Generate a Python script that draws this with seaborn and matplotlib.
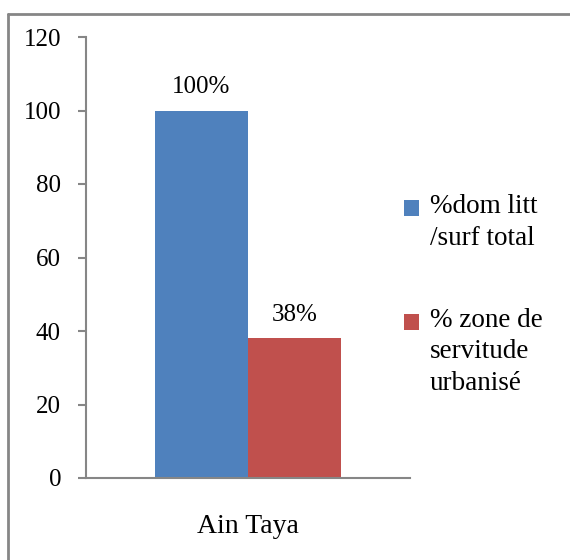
import matplotlib
matplotlib.use("Agg")
import matplotlib.pyplot as plt
import seaborn as sns
import pandas as pd
from matplotlib.lines import Line2D

# data
categories = ["Ain Taya"]
series = ["%dom litt\n/surf total", "% zone de\nservitude\nurbanisé"]
values = [100, 38]
value_labels = ["100%", "38%"]
colors = ["#4F81BD", "#C0504D"]
yticks = [0, 20, 40, 60, 80, 100, 120]

sns.set_style("white")
plt.rcParams["font.family"] = ["Liberation Serif", "DejaVu Serif"]
plt.rcParams["text.color"] = "black"
plt.rcParams["xtick.color"] = "black"
plt.rcParams["ytick.color"] = "black"

df = pd.DataFrame({"commune": categories * len(series), "serie": series, "valeur": values})

fig = plt.figure(figsize=(5.7, 5.6), dpi=100)
ax = fig.add_axes([86 / 570, 1 - 478 / 560, 324 / 570, 441 / 560])

sns.barplot(data=df, x="commune", y="valeur", hue="serie", palette=colors,
            width=0.574, saturation=1, linewidth=0, ax=ax, legend=True)

for cont, lab in zip(ax.containers, value_labels):
    ax.bar_label(cont, labels=[lab], padding=9, fontsize=18, color="black")

ax.set_ylim(0, 120)
ax.set_xlim(-0.5, 0.5)
ax.set_yticks(yticks)
ax.set_yticklabels([str(v) for v in yticks], fontsize=18)
ax.set_xticks([-0.5, 0.5])
ax.set_xticklabels(["", ""])
ax.set_xticks([0], minor=True)
ax.set_xticklabels(categories, minor=True, fontsize=20)
ax.tick_params(axis="x", which="minor", length=0, pad=26)
ax.tick_params(axis="x", which="major", length=6, width=1.5, color="#868686", direction="out")
ax.tick_params(axis="y", length=6, width=1.5, color="#868686", labelcolor="black",
               direction="out", pad=12, left=True)
ax.set_xlabel("")
ax.set_ylabel("")

sns.despine(ax=ax)
for s in ["left", "bottom"]:
    ax.spines[s].set_color("#868686")
    ax.spines[s].set_linewidth(1.5)

leg = ax.legend(loc="upper left", bbox_to_anchor=(404 / 570, 1 - 194 / 560),
                bbox_transform=fig.transFigure, frameon=False, fontsize=19.5,
                handlelength=0.55, handleheight=0.55, handletextpad=0.4,
                labelspacing=2.1, borderpad=0, borderaxespad=0)
for t in leg.get_texts():
    t.set_linespacing(1.35)

# move each colour square up to the first line of its label, as in Excel
fig.canvas.draw()
renderer = fig.canvas.get_renderer()
for h, t in zip(leg.legend_handles, leg.get_texts()):
    tb = t.get_window_extent(renderer)
    hb = h.get_window_extent(renderer)
    dy = (tb.y1 - 6 - hb.y1) * 72 / fig.dpi
    h.set_y(h.get_y() + dy)

# chart frame (clipped on right and bottom)
fig.add_artist(Line2D([8 / 570, 8 / 570], [0, 1 - 14 / 560], color="#868686", lw=2))
fig.add_artist(Line2D([8 / 570, 1], [1 - 14 / 560, 1 - 14 / 560], color="#868686", lw=2))

fig.savefig("out.png", dpi=100)
